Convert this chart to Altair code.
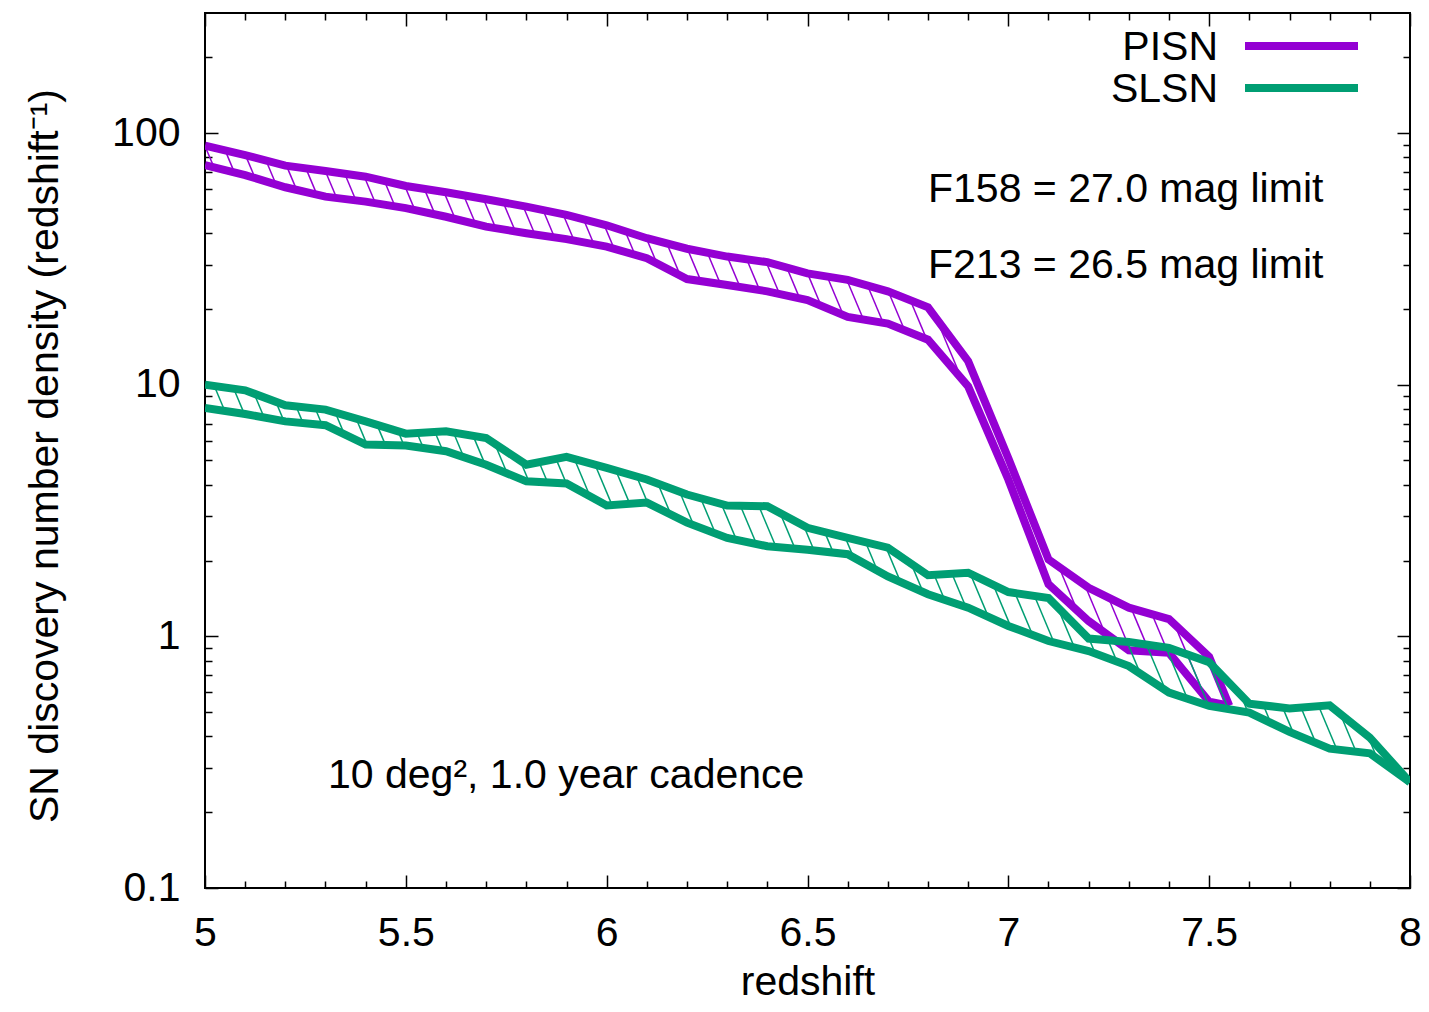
import numpy as np
import pandas as pd
import altair as alt

# ---------------- data ----------------
pisn_z = [5.0, 5.1, 5.2, 5.3, 5.4, 5.5, 5.6, 5.7, 5.8, 5.9, 6.0, 6.1, 6.2, 6.3,
          6.4, 6.5, 6.6, 6.7, 6.8, 6.9, 7.0, 7.1, 7.2, 7.3, 7.4, 7.5, 7.55]
pisn_upper = [89.1, 81.8, 74.2, 70.7, 67.1, 61.6, 58.2, 54.6, 51.0, 47.3, 43.0,
              38.2, 34.7, 32.3, 30.7, 27.7, 26.1, 23.5, 20.3, 12.4, 5.1, 2.02,
              1.56, 1.30, 1.17, 0.83, 0.53]
pisn_lower = [74.6, 68.1, 60.9, 55.9, 53.4, 50.3, 46.5, 42.5, 40.0, 37.9, 35.4,
              31.8, 26.3, 24.9, 23.5, 21.7, 18.6, 17.5, 15.1, 9.84, 4.2, 1.61,
              1.15, 0.88, 0.86, 0.55, 0.53]

slsn_z = [5.0, 5.1, 5.2, 5.3, 5.4, 5.5, 5.6, 5.7, 5.8, 5.9, 6.0, 6.1, 6.2, 6.3,
          6.4, 6.5, 6.6, 6.7, 6.8, 6.9, 7.0, 7.1, 7.2, 7.3, 7.4, 7.5, 7.6, 7.7,
          7.8, 7.9, 8.0]
slsn_upper = [10.0, 9.5, 8.28, 7.96, 7.15, 6.39, 6.53, 6.14, 4.81, 5.17, 4.67,
              4.20, 3.66, 3.31, 3.29, 2.70, 2.46, 2.25, 1.75, 1.79, 1.50, 1.42,
              0.98, 0.95, 0.90, 0.79, 0.54, 0.517, 0.532, 0.396, 0.263]
slsn_lower = [8.08, 7.65, 7.15, 6.90, 5.78, 5.73, 5.44, 4.81, 4.13, 4.05, 3.31,
              3.40, 2.83, 2.46, 2.28, 2.21, 2.12, 1.73, 1.47, 1.30, 1.10, 0.958,
              0.874, 0.762, 0.598, 0.529, 0.498, 0.417, 0.358, 0.343, 0.263]

series_names = ["PISN", "SLSN"]
x_major = [5, 5.5, 6, 6.5, 7, 7.5, 8]
x_minor = [5.1, 5.2, 5.3, 5.4, 5.6, 5.7, 5.8, 5.9, 6.1, 6.2, 6.3, 6.4, 6.6, 6.7,
           6.8, 6.9, 7.1, 7.2, 7.3, 7.4, 7.6, 7.7, 7.8, 7.9]
y_major = [0.1, 1, 10, 100]
y_minor = [0.2, 0.3, 0.4, 0.5, 0.6, 0.7, 0.8, 0.9, 2, 3, 4, 5, 6, 7, 8, 9,
           20, 30, 40, 50, 60, 70, 80, 90, 200]
annotation_lines = ["F158 = 27.0 mag limit", "F213 = 26.5 mag limit"]
annotation_area = "10 deg\u00b2, 1.0 year cadence"
x_title = "redshift"
y_title = "SN discovery number density (redshift\u207b\u00b9)"

# ---------------- styling ----------------
PURPLE = "#9400D3"
GREEN = "#009E73"
FONT = "Liberation Sans"
FS = 41
W, H = 1205, 875
X_DOM = [5.0, 8.0]
Y_DOM = [0.1, 300]

# hatch geometry (pixel style), converted to data space via the scale sizes
px_per_z = W / (X_DOM[1] - X_DOM[0])
px_per_dec = H / np.log10(Y_DOM[1] / Y_DOM[0])
HATCH_SLOPE = 0.42      # px to the right per px down
HATCH_STEP = 18.3       # px between hatch lines
k = HATCH_SLOPE * px_per_dec / px_per_z
dc = HATCH_STEP / px_per_z


def first_cross(g, zf, c):
    s = g - c
    idx = np.where((s[:-1] <= 0) & (s[1:] > 0))[0]
    if len(idx) == 0:
        return None
    i = idx[0]
    t = -s[i] / (s[i + 1] - s[i])
    return zf[i] + t * (zf[i + 1] - zf[i])


def hatch(z, up, lo):
    z = np.asarray(z, float)
    Lu = np.log10(np.asarray(up, float))
    Ll = np.log10(np.asarray(lo, float))
    zf = np.linspace(z[0], z[-1], 6001)
    Luf = np.interp(zf, z, Lu)
    Llf = np.interp(zf, z, Ll)
    gu = zf + k * Luf
    gl = zf + k * Llf
    rows = []
    start = np.floor(min(gl.min(), gu.min()) / dc) * dc
    for c in np.arange(start, max(gu.max(), gl.max()) + dc, dc):
        zl = first_cross(gl, zf, c)
        if zl is None:
            continue
        if gu[0] > c:
            # line enters through the left boundary
            zu = zf[0]
            Lu_pt = (c - zu) / k
        else:
            zu = first_cross(gu, zf, c)
            if zu is None:
                continue
            Lu_pt = np.interp(zu, zf, Luf)
        Ll_pt = np.interp(zl, zf, Llf)
        if zl < zu:
            continue
        length = np.hypot((zl - zu) * px_per_z, (Lu_pt - Ll_pt) * px_per_dec)
        if length > 120:
            continue
        rows.append({"z1": zu, "v1": 10 ** Lu_pt, "z2": zl, "v2": 10 ** Ll_pt})
    return pd.DataFrame(rows)


pisn_df = pd.DataFrame({"z": pisn_z, "upper": pisn_upper, "lower": pisn_lower})
slsn_df = pd.DataFrame({"z": slsn_z, "upper": slsn_upper, "lower": slsn_lower})
pisn_hatch = hatch(pisn_z, pisn_upper, pisn_lower)
slsn_hatch = hatch(slsn_z, slsn_upper, slsn_lower)

xs = alt.Scale(domain=X_DOM, nice=False, zero=False)
ys = alt.Scale(type="log", domain=Y_DOM, nice=False)


def tick_axis(orient, values, size, offset):
    return alt.Axis(orient=orient, values=values, tickSize=size, offset=offset,
                    labels=False, domain=False, grid=False, ticks=True,
                    tickColor="black", tickWidth=1.5, title=None)


x_label_axis = alt.Axis(orient="bottom", values=x_major, format=".1~f", ticks=False,
                        tickSize=0, domain=False, grid=False, labelFont=FONT,
                        labelFontSize=FS, labelColor="black", labelPadding=57,
                        labelBaseline="alphabetic", labelFlush=False,
                        title=x_title, titleFont=FONT, titleFontSize=FS,
                        titleFontWeight="normal", titleColor="black",
                        titleX=W / 2, titleY=106, titleBaseline="alphabetic",
                        titleAlign="center")
y_label_axis = alt.Axis(orient="left", values=y_major, format="~g", ticks=False,
                        tickSize=0, domain=False, grid=False, labelFont=FONT,
                        labelFontSize=FS, labelColor="black", labelPadding=25,
                        labelFlush=False,
                        title=y_title, titleFont=FONT, titleFontSize=FS,
                        titleFontWeight="normal", titleColor="black",
                        titleAngle=-90, titleX=-160, titleY=H / 2 + 5,
                        titleAlign="center", titleBaseline="middle")

pisn_hatch_layer = alt.Chart(pisn_hatch).mark_rule(
    color=PURPLE, strokeWidth=1.5, clip=True).encode(
    x=alt.X("z1:Q", scale=xs, axis=tick_axis("bottom", x_minor, 7, -H)),
    y=alt.Y("v1:Q", scale=ys, axis=tick_axis("left", y_minor, 7, -W)),
    x2="z2:Q", y2="v2:Q")

pisn_up_layer = alt.Chart(pisn_df).mark_line(
    color=PURPLE, strokeWidth=8, clip=True).encode(
    x=alt.X("z:Q", scale=xs, axis=x_label_axis),
    y=alt.Y("upper:Q", scale=ys, axis=y_label_axis))

pisn_lo_layer = alt.Chart(pisn_df).mark_line(
    color=PURPLE, strokeWidth=8, clip=True).encode(
    x=alt.X("z:Q", scale=xs, axis=tick_axis("top", x_major, 13, -H)),
    y=alt.Y("lower:Q", scale=ys, axis=tick_axis("right", y_major, 13, -W)))

slsn_hatch_layer = alt.Chart(slsn_hatch).mark_rule(
    color=GREEN, strokeWidth=1.5, clip=True).encode(
    x=alt.X("z1:Q", scale=xs, axis=None),
    y=alt.Y("v1:Q", scale=ys, axis=None),
    x2="z2:Q", y2="v2:Q")

slsn_up_layer = alt.Chart(slsn_df).mark_line(
    color=GREEN, strokeWidth=8, clip=True).encode(
    x=alt.X("z:Q", scale=xs, axis=tick_axis("top", x_minor, 7, -H)),
    y=alt.Y("upper:Q", scale=ys, axis=tick_axis("right", y_minor, 7, -W)))

slsn_lo_layer = alt.Chart(slsn_df).mark_line(
    color=GREEN, strokeWidth=8, clip=True).encode(
    x=alt.X("z:Q", scale=xs, axis=tick_axis("bottom", x_major, 13, -H)),
    y=alt.Y("lower:Q", scale=ys, axis=tick_axis("left", y_major, 13, -W)))


def text_layer(txt, x, y, align="left"):
    return alt.Chart(pd.DataFrame({"t": [txt]})).mark_text(
        font=FONT, fontSize=FS, color="black", align=align,
        baseline="alphabetic").encode(
        text="t:N", x=alt.value(x), y=alt.value(y))


def legend_line(color, y):
    return alt.Chart(pd.DataFrame({"s": [0]})).mark_rule(
        color=color, strokeWidth=8).encode(
        x=alt.value(1040), x2=alt.value(1153), y=alt.value(y))


chart = alt.layer(
    pisn_hatch_layer, pisn_up_layer, pisn_lo_layer,
    slsn_hatch_layer, slsn_up_layer, slsn_lo_layer,
    text_layer(annotation_lines[0], 723, 189),
    text_layer(annotation_lines[1], 723, 265),
    text_layer(annotation_area, 123, 775),
    text_layer(series_names[0], 1013, 47, "right"),
    text_layer(series_names[1], 1013, 89, "right"),
    legend_line(PURPLE, 33),
    legend_line(GREEN, 75),
).resolve_axis(x="independent", y="independent").properties(
    width=W, height=H,
    autosize=alt.AutoSizeParams(type="none"),
    padding={"left": 197, "top": 5, "right": 11, "bottom": 116},
    background="white",
).configure_view(stroke="black", strokeWidth=2)

chart.save("out.html", embed_options={"renderer": "svg", "actions": False})
